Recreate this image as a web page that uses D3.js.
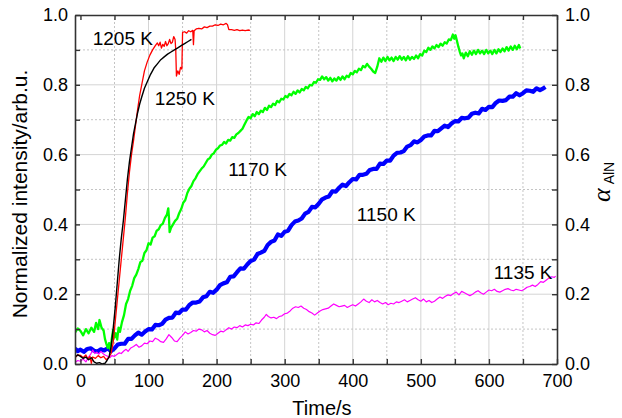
<!DOCTYPE html>
<html>
<head>
<meta charset="utf-8">
<script src="https://cdn.jsdelivr.net/npm/d3@7"></script>
<style>
  body { margin: 0; background: #fff; }
  svg text { font-family: "Liberation Sans", Arial, Helvetica, sans-serif; fill: #000; }
  .axis path, .axis line { stroke: #333; }
</style>
</head>
<body>
<div id="chart"></div>
<script>
// Series: [time in s, normalized intensity]
const series1250 = [[-8,0.020],[-4,0.026],[0,0.022],[4,0.016],[8,0.020],[12,0.012],[16,0.018],[20,0.006],[24,0.002],[28,0.004],[32,0.000],[36,0.002],[39,0.010],[42,0.020],[45,0.050],[48,0.100],[51,0.160],[54,0.230],[57,0.300],[60,0.360],[63,0.410],[66,0.470],[69,0.530],[72,0.580],[75,0.620],[78,0.660],[81,0.690],[84,0.720],[87,0.745],[90,0.765],[94,0.790],[98,0.808],[103,0.830],[108,0.848],[113,0.860],[118,0.872],[123,0.880],[128,0.888],[133,0.894],[138,0.900],[143,0.906],[148,0.912],[153,0.918],[158,0.924],[163,0.930]];

const series1205 = [[-8,0.018],[-4,0.026],[0,0.025],[4,0.018],[8,0.026],[11,0.014],[14,0.022],[16,0.002],[18,0.020],[22,0.016],[26,0.024],[30,0.018],[34,0.022],[38,0.012],[42,0.020],[45,0.030],[48,0.060],[51,0.120],[54,0.180],[57,0.240],[60,0.300],[63,0.360],[66,0.420],[69,0.490],[72,0.550],[75,0.600],[78,0.640],[81,0.685],[84,0.730],[87,0.770],[90,0.800],[94,0.840],[98,0.865],[102,0.885],[106,0.900],[110,0.912],[113,0.920],[115,0.912],[117,0.922],[119,0.905],[121,0.916],[123,0.910],[125,0.924],[127,0.912],[129,0.918],[131,0.930],[133,0.918],[135,0.922],[137,0.938],[139,0.930],[140,0.900],[141,0.825],[143,0.840],[145,0.830],[147,0.850],[149,0.845],[150,0.950],[153,0.952],[156,0.948],[159,0.955],[162,0.952],[165,0.956],[166,0.915],[167,0.955],[170,0.960],[174,0.962],[178,0.960],[182,0.966],[186,0.964],[190,0.968],[194,0.968],[198,0.972],[202,0.970],[206,0.974],[210,0.972],[214,0.976],[216,0.972],[218,0.958],[222,0.958],[226,0.956],[230,0.958],[234,0.955],[238,0.957],[242,0.955],[246,0.957],[249,0.956]];

const series1170 = [[-8,0.090],[-4,0.102],[0,0.095],[4,0.082],[8,0.100],[12,0.088],[16,0.104],[20,0.092],[23,0.118],[26,0.100],[28,0.126],[31,0.104],[34,0.096],[36,0.072],[38,0.058],[40,0.046],[42,0.060],[44,0.040],[46,0.072],[48,0.098],[50,0.076],[52,0.088],[54,0.070],[56,0.104],[58,0.092],[61,0.120],[64,0.140],[67,0.172],[70,0.186],[73,0.210],[76,0.224],[79,0.246],[82,0.256],[85,0.272],[88,0.292],[91,0.296],[94,0.318],[97,0.326],[100,0.346],[103,0.342],[106,0.362],[109,0.366],[112,0.382],[115,0.386],[118,0.398],[121,0.402],[124,0.418],[127,0.428],[129,0.446],[130,0.420],[131,0.378],[133,0.390],[136,0.400],[139,0.410],[142,0.416],[145,0.432],[148,0.444],[151,0.462],[154,0.470],[157,0.490],[160,0.502],[163,0.510],[166,0.524],[169,0.532],[172,0.544],[175,0.552],[178,0.560],[181,0.566],[184,0.576],[187,0.586],[190,0.590],[193,0.600],[196,0.604],[199,0.614],[202,0.618],[205,0.626],[208,0.628],[211,0.636],[214,0.632],[217,0.642],[220,0.640],[223,0.650],[226,0.648],[229,0.658],[232,0.662],[235,0.668],[238,0.674],[241,0.686],[244,0.698],[247,0.708],[250,0.704],[253,0.716],[256,0.710],[259,0.722],[262,0.716],[265,0.726],[268,0.722],[271,0.734],[274,0.728],[277,0.740],[280,0.736],[283,0.746],[286,0.742],[289,0.754],[292,0.750],[295,0.760],[298,0.758],[301,0.768],[304,0.764],[307,0.774],[310,0.770],[313,0.780],[316,0.774],[319,0.784],[322,0.778],[325,0.788],[328,0.784],[331,0.794],[334,0.790],[337,0.800],[340,0.798],[343,0.808],[346,0.806],[349,0.816],[352,0.814],[355,0.824],[358,0.816],[361,0.822],[364,0.812],[367,0.820],[370,0.810],[373,0.818],[376,0.812],[379,0.822],[382,0.814],[385,0.824],[388,0.816],[391,0.826],[394,0.822],[397,0.834],[400,0.830],[403,0.840],[406,0.836],[409,0.846],[412,0.842],[415,0.854],[418,0.850],[421,0.860],[424,0.852],[427,0.846],[430,0.838],[433,0.834],[436,0.852],[439,0.876],[442,0.866],[445,0.878],[448,0.868],[451,0.880],[454,0.870],[457,0.878],[460,0.868],[463,0.880],[466,0.872],[469,0.882],[472,0.872],[475,0.880],[478,0.870],[481,0.882],[484,0.872],[487,0.880],[490,0.874],[493,0.884],[496,0.876],[499,0.888],[502,0.884],[505,0.898],[508,0.894],[511,0.906],[514,0.900],[517,0.910],[520,0.904],[523,0.914],[526,0.908],[529,0.918],[532,0.912],[535,0.922],[538,0.918],[541,0.930],[544,0.928],[547,0.944],[549,0.932],[551,0.942],[553,0.926],[555,0.910],[557,0.896],[559,0.884],[561,0.890],[563,0.876],[566,0.892],[569,0.882],[572,0.896],[575,0.886],[578,0.898],[581,0.888],[584,0.900],[587,0.890],[590,0.898],[593,0.888],[596,0.900],[599,0.890],[602,0.898],[605,0.888],[608,0.900],[611,0.890],[614,0.902],[617,0.894],[620,0.904],[623,0.896],[626,0.908],[629,0.898],[632,0.910],[635,0.900],[638,0.912],[641,0.902],[644,0.914],[646,0.904]];

const series1150 = [[-8,0.044],[-4,0.037],[0,0.041],[5,0.035],[10,0.043],[15,0.045],[20,0.038],[25,0.036],[30,0.042],[35,0.039],[40,0.045],[45,0.037],[50,0.045],[55,0.056],[60,0.058],[65,0.058],[70,0.072],[75,0.072],[80,0.082],[85,0.090],[90,0.084],[95,0.093],[100,0.100],[105,0.099],[110,0.112],[115,0.111],[120,0.115],[125,0.127],[130,0.132],[135,0.133],[140,0.147],[145,0.146],[150,0.156],[155,0.156],[160,0.169],[165,0.176],[170,0.176],[175,0.179],[180,0.191],[185,0.194],[190,0.207],[195,0.204],[200,0.213],[205,0.226],[210,0.231],[215,0.234],[220,0.250],[225,0.251],[230,0.263],[235,0.274],[240,0.273],[245,0.285],[250,0.295],[255,0.299],[260,0.315],[265,0.319],[270,0.324],[275,0.341],[280,0.350],[285,0.354],[290,0.371],[295,0.367],[300,0.379],[305,0.382],[310,0.398],[315,0.408],[320,0.411],[325,0.417],[330,0.431],[335,0.436],[340,0.450],[345,0.449],[350,0.459],[355,0.472],[360,0.477],[365,0.480],[370,0.495],[375,0.494],[380,0.505],[385,0.514],[390,0.510],[395,0.521],[400,0.530],[405,0.529],[410,0.542],[415,0.542],[420,0.545],[425,0.556],[430,0.559],[435,0.559],[440,0.574],[445,0.573],[450,0.583],[455,0.583],[460,0.597],[465,0.605],[470,0.606],[475,0.610],[480,0.623],[485,0.627],[490,0.638],[495,0.635],[500,0.642],[505,0.652],[510,0.655],[515,0.655],[520,0.668],[525,0.667],[530,0.675],[535,0.683],[540,0.679],[545,0.689],[550,0.696],[555,0.695],[560,0.705],[565,0.704],[570,0.706],[575,0.717],[580,0.720],[585,0.718],[590,0.731],[595,0.728],[600,0.737],[605,0.736],[610,0.748],[615,0.755],[620,0.754],[625,0.756],[630,0.766],[635,0.766],[640,0.776],[645,0.770],[650,0.776],[655,0.784],[660,0.783],[665,0.780],[670,0.790],[675,0.785],[680,0.790],[683,0.794]];

const series1135 = [[-8,0.004],[-4,0.010],[0,0.008],[4,0.014],[8,0.006],[12,0.020],[15,0.028],[18,0.040],[21,0.030],[24,0.034],[27,0.028],[30,0.036],[33,0.030],[36,0.026],[40,0.022],[43,0.018],[46,0.024],[50,0.022],[54,0.028],[57,0.032],[60,0.030],[64,0.038],[67,0.042],[70,0.036],[74,0.046],[78,0.050],[82,0.056],[86,0.048],[90,0.052],[94,0.060],[98,0.058],[102,0.066],[106,0.064],[110,0.074],[114,0.070],[118,0.064],[122,0.062],[126,0.072],[130,0.084],[134,0.076],[138,0.066],[142,0.064],[146,0.074],[150,0.082],[154,0.092],[158,0.086],[162,0.090],[166,0.096],[170,0.094],[174,0.100],[178,0.098],[182,0.092],[186,0.096],[190,0.088],[194,0.084],[198,0.082],[202,0.088],[206,0.094],[210,0.092],[214,0.098],[218,0.104],[222,0.100],[226,0.106],[230,0.104],[234,0.110],[238,0.106],[242,0.112],[246,0.110],[250,0.114],[254,0.112],[258,0.118],[262,0.116],[266,0.126],[270,0.134],[273,0.142],[276,0.136],[280,0.132],[284,0.134],[288,0.130],[292,0.136],[296,0.138],[300,0.144],[304,0.146],[308,0.152],[312,0.160],[316,0.164],[320,0.162],[324,0.166],[328,0.160],[332,0.156],[336,0.150],[340,0.146],[344,0.140],[348,0.146],[352,0.152],[356,0.156],[360,0.158],[364,0.160],[368,0.166],[372,0.172],[376,0.168],[380,0.164],[384,0.166],[388,0.168],[392,0.162],[396,0.166],[400,0.170],[404,0.166],[408,0.172],[412,0.178],[416,0.186],[420,0.180],[424,0.176],[428,0.184],[432,0.178],[436,0.182],[440,0.176],[444,0.172],[448,0.176],[452,0.170],[456,0.174],[460,0.172],[464,0.178],[468,0.176],[472,0.180],[476,0.184],[480,0.178],[484,0.182],[488,0.186],[492,0.190],[496,0.184],[500,0.180],[504,0.186],[508,0.178],[512,0.182],[516,0.176],[520,0.180],[524,0.186],[528,0.192],[532,0.188],[536,0.194],[540,0.198],[544,0.196],[548,0.202],[552,0.206],[556,0.198],[560,0.208],[564,0.204],[568,0.200],[572,0.196],[576,0.200],[580,0.206],[584,0.210],[588,0.204],[592,0.200],[596,0.206],[600,0.212],[604,0.210],[608,0.214],[612,0.208],[616,0.206],[620,0.210],[624,0.214],[628,0.216],[632,0.212],[636,0.210],[640,0.214],[644,0.212],[648,0.210],[652,0.214],[656,0.220],[660,0.222],[664,0.226],[668,0.222],[672,0.228],[676,0.236],[680,0.234],[684,0.240],[688,0.246],[692,0.250],[696,0.248],[698,0.252]];

// Curve labels: [text, time, intensity] at the label's left baseline
const curveLabels = [["1205 K", 18, 0.914], ["1250 K", 109, 0.742], ["1170 K", 217, 0.539], ["1150 K", 406, 0.41], ["1135 K", 607, 0.244]];

const xTicks = [0, 100, 200, 300, 400, 500, 600, 700];
const yTicks = [0, 0.2, 0.4, 0.6, 0.8, 1.0];

const width = 622, height = 418;
const margin = { top: 15, right: 65, bottom: 54, left: 75 };

const svg = d3.select('#chart').append('svg')
    .attr('width', width)
    .attr('height', height);

// the time axis starts a little before zero
const x = d3.scaleLinear().domain([-8, 700]).range([margin.left, width - margin.right]);
const y = d3.scaleLinear().domain([0, 1]).range([height - margin.bottom, margin.top]);

// grid: solid at labelled ticks, dotted halfway
const grid = svg.append('g');
d3.range(50, 700, 50).forEach(t => {
    grid.append('line')
        .attr('x1', x(t)).attr('x2', x(t))
        .attr('y1', y(0)).attr('y2', y(1))
        .attr('stroke', t % 100 === 0 ? '#d4d4d4' : '#c4c4c4')
        .attr('stroke-width', 1)
        .attr('stroke-dasharray', t % 100 === 0 ? null : '2,2');
});
d3.range(1, 10).forEach(i => {
    const v = i / 10;
    grid.append('line')
        .attr('x1', x.range()[0]).attr('x2', x.range()[1])
        .attr('y1', y(v)).attr('y2', y(v))
        .attr('stroke', i % 2 === 0 ? '#d4d4d4' : '#c4c4c4')
        .attr('stroke-width', 1)
        .attr('stroke-dasharray', i % 2 === 0 ? null : '2,2');
});

// curves
const line = d3.line().x(d => x(d[0])).y(d => y(d[1]));
svg.append('clipPath').attr('id', 'plot-clip')
    .append('rect')
    .attr('x', x.range()[0]).attr('y', y(1))
    .attr('width', x.range()[1] - x.range()[0]).attr('height', y(0) - y(1));

const curves = [
    { data: series1150, color: '#0000ff', w: 4.2 },
    { data: series1170, color: '#00ff00', w: 2.3 },
    { data: series1135, color: '#ff00ff', w: 1.2 },
    { data: series1205, color: '#ff0000', w: 1.3 },
    { data: series1250, color: '#000000', w: 1.4 }
];
const curveGroup = svg.append('g').attr('clip-path', 'url(#plot-clip)');
curves.forEach(c => {
    curveGroup.append('path')
        .datum(c.data)
        .attr('d', line)
        .attr('fill', 'none')
        .attr('stroke', c.color)
        .attr('stroke-width', c.w)
        .attr('stroke-linejoin', 'round');
});

// axes, ticks pointing inward
const minorX = d3.range(0, 701, 50);
const minorY = d3.range(0, 11).map(i => i / 10);
const fmtY = d => (Math.round(d * 10) % 2 === 0) ? d3.format('.1f')(d) : '';
const fmtX = d => xTicks.includes(d) ? d : '';

svg.append('g').attr('class', 'axis')
    .attr('transform', `translate(0,${y(0)})`)
    .call(d3.axisBottom(x).tickValues(minorX).tickFormat(fmtX).tickSizeInner(-5).tickSizeOuter(0).tickPadding(10));
svg.append('g').attr('class', 'axis')
    .attr('transform', `translate(0,${y(1)})`)
    .call(d3.axisTop(x).tickValues(minorX).tickFormat('').tickSizeInner(-5).tickSizeOuter(0));
svg.append('g').attr('class', 'axis')
    .attr('transform', `translate(${x.range()[0]},0)`)
    .call(d3.axisLeft(y).tickValues(minorY).tickFormat(fmtY).tickSizeInner(-5).tickSizeOuter(0).tickPadding(7));
svg.append('g').attr('class', 'axis')
    .attr('transform', `translate(${x.range()[1]},0)`)
    .call(d3.axisRight(y).tickValues(minorY).tickFormat(fmtY).tickSizeInner(-5).tickSizeOuter(0).tickPadding(8));

svg.selectAll('.axis path').attr('stroke-width', 1.6);
svg.selectAll('.axis line').attr('stroke-width', 1.4);
svg.selectAll('.axis text').style('font-size', '18px').attr('fill', '#000');

// curve labels
svg.append('g').selectAll('text')
    .data(curveLabels)
    .join('text')
    .attr('x', d => x(d[1]))
    .attr('y', d => y(d[2]))
    .style('font-size', '19px')
    .text(d => d[0]);

// axis titles
svg.append('text')
    .attr('x', 322).attr('y', 415)
    .attr('text-anchor', 'middle')
    .style('font-size', '20px')
    .text('Time/s');

svg.append('text')
    .attr('transform', 'translate(27,194) rotate(-90)')
    .attr('text-anchor', 'middle')
    .style('font-size', '21px')
    .text('Normalized intensity/arb.u.');

const alpha = svg.append('text')
    .attr('transform', 'translate(610,202) rotate(-90)');
alpha.append('tspan')
    .style('font-family', '"Liberation Serif", "DejaVu Serif", serif')
    .style('font-style', 'italic')
    .style('font-size', '26px')
    .text('α');
alpha.append('tspan')
    .attr('dx', 4).attr('dy', 4)
    .style('font-size', '14px')
    .text('AlN');
</script>
</body>
</html>
